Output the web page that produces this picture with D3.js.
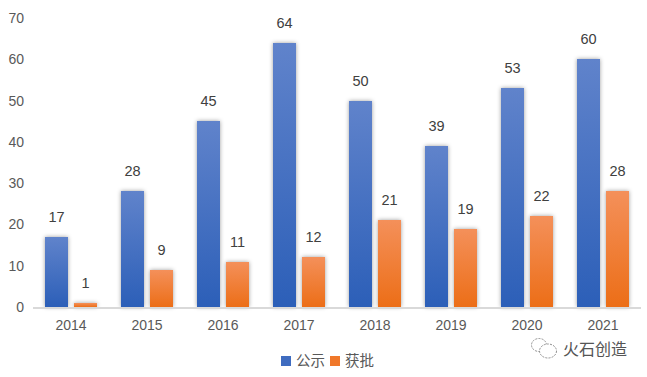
<!DOCTYPE html>
<html><head><meta charset="utf-8">
<script src="https://cdn.jsdelivr.net/npm/d3@7"></script>
<style>html,body{margin:0;padding:0;background:#fff}svg{display:block}text{font-family:"Liberation Sans","Noto Sans CJK SC",sans-serif}</style>
</head><body><div id="c"></div>
<script>
const years=["2014","2015","2016","2017","2018","2019","2020","2021"];
const gongshi=[17,28,45,64,50,39,53,60];
const huopi=[1,9,11,12,21,19,22,28];
const seriesNames=["公示","获批"];
const yTicks=[0,10,20,30,40,50,60,70];
const watermark="火石创造";

const W=647,H=377;
const svg=d3.select("#c").append("svg").attr("width",W).attr("height",H);
const defs=svg.append("defs");
function grad(id,a,b){const g=defs.append("linearGradient").attr("id",id).attr("x1",0).attr("y1",0).attr("x2",0).attr("y2",1);
 g.append("stop").attr("offset","0%").attr("stop-color",a);
 g.append("stop").attr("offset","100%").attr("stop-color",b);}
grad("gb","#6083cb","#2c5fb8");
grad("go","#f4905a","#ec6e17");
const f=defs.append("filter").attr("id","sh").attr("filterUnits","userSpaceOnUse").attr("x",0).attr("y",0).attr("width",W).attr("height",H).attr("color-interpolation-filters","sRGB");
f.append("feGaussianBlur").attr("in","SourceAlpha").attr("stdDeviation",2).attr("result","b");
f.append("feFlood").attr("flood-color","#000").attr("flood-opacity",0.38);
f.append("feComposite").attr("in2","b").attr("operator","in").attr("result","s");
const m=f.append("feMerge");m.append("feMergeNode").attr("in","s");m.append("feMergeNode").attr("in","SourceGraphic");

const x=d3.scaleBand().domain(years).range([33,641]);
const x1=d3.scaleBand().domain(seriesNames).range([12,64]).paddingInner(6/29);
const y=d3.scaleLinear().domain([0,70]).rangeRound([307,18]);

const yAxis=d3.axisLeft(y).tickValues(yTicks).tickSize(0).tickPadding(0);
const gy=svg.append("g").attr("transform","translate(24,0)").call(yAxis);
gy.select(".domain").remove();
gy.selectAll("text").attr("font-size",14).attr("fill","#595959").attr("dy","0.32em").attr("x",0);

const series=[{n:seriesNames[0],v:gongshi,f:"url(#gb)"},{n:seriesNames[1],v:huopi,f:"url(#go)"}];
series.forEach(s=>{
 const g=svg.append("g");
 g.selectAll("rect").data(years).join("rect")
  .attr("x",d=>x(d)+x1(s.n)).attr("width",x1.bandwidth())
  .attr("y",(d,i)=>y(s.v[i])).attr("height",(d,i)=>y(0)-y(s.v[i]))
  .attr("fill",s.f).attr("filter","url(#sh)");
});
svg.append("rect").attr("x",33).attr("y",307).attr("width",608).attr("height",2).attr("fill","#d9d9d9");
series.forEach(s=>{
 svg.append("g").selectAll("text").data(years).join("text")
  .attr("x",d=>x(d)+x1(s.n)+x1.bandwidth()/2)
  .attr("y",(d,i)=>y(s.v[i])-15)
  .attr("text-anchor","middle").attr("font-size",14.5).attr("fill","#404040")
  .text((d,i)=>s.v[i]);
});

const xAxis=d3.axisBottom(x).tickSize(0).tickPadding(0);
const gx=svg.append("g").attr("transform","translate(0,320)").call(xAxis);
gx.select(".domain").remove();
gx.selectAll("text").attr("font-size",14).attr("fill","#595959").attr("dy","0.72em");

// legend
const lg=svg.append("g");
[[281,"#3f6cc0",296,seriesNames[0]],[330,"#f0782a",345,seriesNames[1]]].forEach(a=>{
 lg.append("rect").attr("x",a[0]).attr("y",356).attr("width",10).attr("height",10).attr("fill",a[1]);
 lg.append("text").attr("x",a[2]).attr("y",366).attr("font-size",14.5).attr("fill","#595959").text(a[3]);
});

// watermark
const wm=svg.append("g").attr("fill","#fff").attr("stroke","#8f8f8f").attr("stroke-width",1).attr("stroke-dasharray","2 1.2");
wm.append("ellipse").attr("cx",539).attr("cy",345).attr("rx",7.5).attr("ry",6.5);
wm.append("ellipse").attr("cx",548).attr("cy",351).attr("rx",8.5).attr("ry",7);
svg.append("text").attr("x",563).attr("y",355).attr("font-size",16).attr("fill","#555").text(watermark);
</script></body></html>
